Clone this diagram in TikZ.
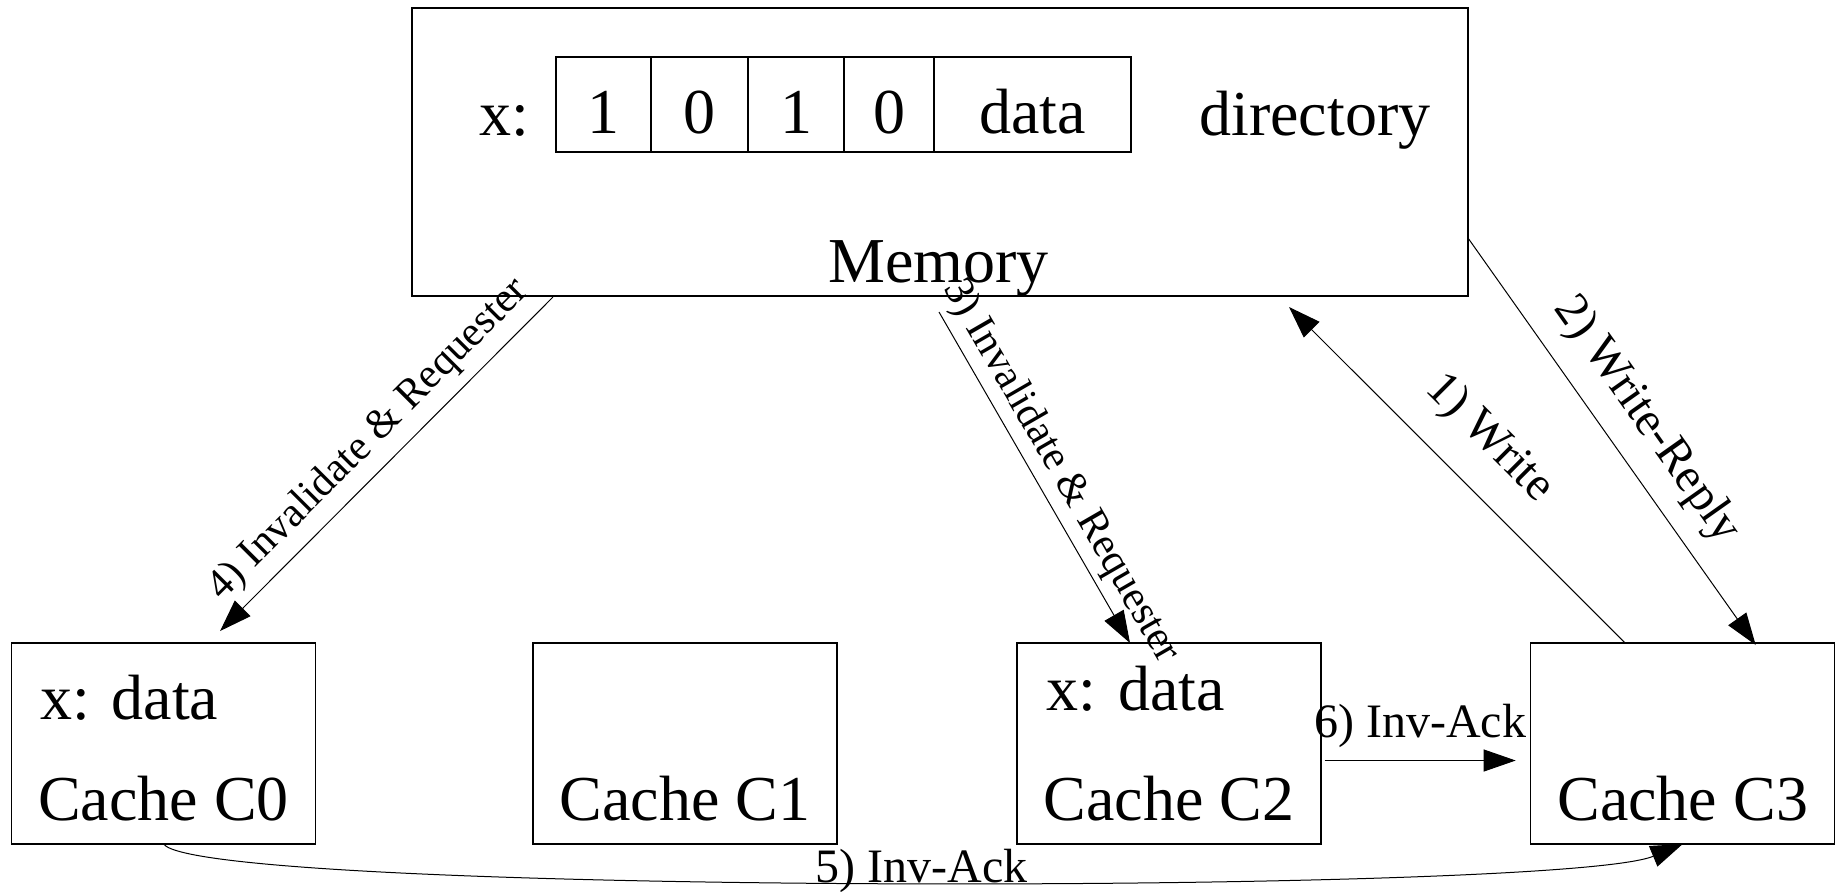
\documentclass[tikz,border=0pt]{standalone}
\usepackage{fontspec}
\setmainfont{Liberation Serif}
\usetikzlibrary{arrows.meta, positioning, calc}

\tikzset{
  box/.style={draw, line width=0.6pt, inner sep=0pt, outer sep=0pt},
  cell/.style={box, minimum height=47.5pt, text height=28.8pt, text depth=0pt, font=\fontsize{32}{36}\selectfont},
  big/.style={inner sep=0pt, font=\fontsize{32}{36}\selectfont},
  lbl/.style={inner sep=3pt, font=\fontsize{24}{28}\selectfont},
  lblsmall/.style={lbl, font=\fontsize{21}{25}\selectfont},
  arr/.style={line width=0.5pt, -{Triangle[length=16pt, width=11pt]}},
}

\begin{document}
\begin{tikzpicture}[x=0.5pt, y=-0.5pt]
\useasboundingbox (0,0) rectangle (1841,891);

\node[box, minimum width=528pt, minimum height=144pt] (mem) at (940,152) {};
\node[cell, minimum width=47.5pt, anchor=north west] (b0) at (556,57) {1};
\node[cell, minimum width=48.5pt, anchor=west] (b1) at (b0.east) {0};
\node[cell, minimum width=48pt, anchor=west] (b2) at (b1.east) {1};
\node[cell, minimum width=45pt, anchor=west] (b3) at (b2.east) {0};
\node[cell, minimum width=98.5pt, anchor=west] (bdata) at (b3.east) {data};
\node[big, anchor=base west] (memx) at (479,135) {x:};
\node[big, anchor=base west] (dir) at (1199,135) {directory};
\node[big, anchor=base] (memname) at (938.5,282) {Memory};

\foreach \i/\x in {0/163.6, 1/685, 2/1169, 3/1682.7} {
  \node[box, minimum width=152pt, minimum height=100.5pt] (c\i) at (\x,743.5) {};
  \node[big, anchor=base] (cn\i) at ($(c\i.center)+(0,76.5)$) {Cache C\i};
}
\node[big, anchor=base west] (cx0) at ($(c0.north west)+(28.5,76)$) {x: data};
\node[big, anchor=base west] (cx2) at ($(c2.north west)+(29.5,67)$) {x: data};

\draw[arr] ($(c3.north west)+(94.5,0)$) -- node[lbl, sloped, above=10pt, pos=0.506] (l1) {1) Write} ($(mem.south west)+(877,11)$);
\draw[arr] ($(mem.south east)+(0,-58)$) -- node[lbl, sloped, above=6pt, pos=0.505] (l2) {2) Write-Reply} ($(c3.north west)+(225,2)$);
\draw[arr] ($(mem.south west)+(527,16)$) -- node[lblsmall, sloped, above=0pt, pos=0.52] (l3) {3) Invalidate \& Requester} ($(c2.north west)+(113,0)$);
\draw[arr] ($(mem.south west)+(141,1)$) -- node[lblsmall, sloped, above=2pt, pos=0.49] (l4) {4) Invalidate \& Requester} ($(c0.north west)+(208.5,-12)$);
\draw[arr] (c0.south) .. controls (200,895) and (1560,895) .. node[lbl, pos=0.5, anchor=base, xshift=15.5pt] (l5) {5) Inv-Ack} (c3.south);
\draw[arr] ($(c2.east)+(3.6,17)$) -- node[lbl, above=3pt] (l6) {6) Inv-Ack} ($(c3.west)+(-15,17)$);
\end{tikzpicture}
\end{document}
